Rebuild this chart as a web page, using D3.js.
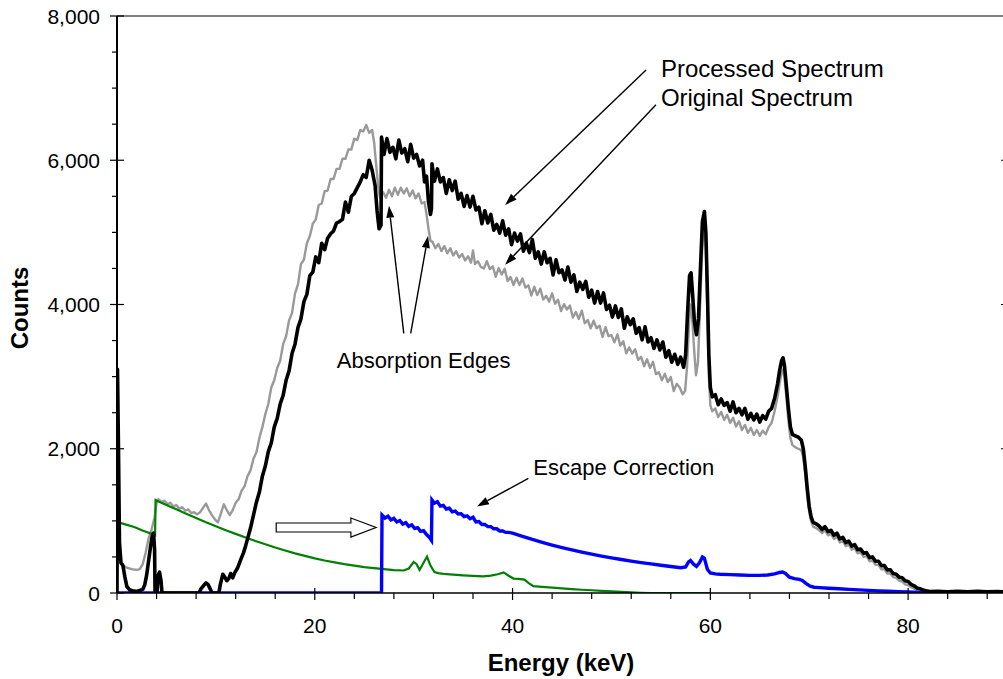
<!DOCTYPE html>
<html><head><meta charset="utf-8">
<script src="https://cdn.jsdelivr.net/npm/d3@7"></script>
<style>
html,body{margin:0;padding:0;background:#fff;}
svg{display:block;font-family:"Liberation Sans",Arial,sans-serif;}
</style></head>
<body>
<svg id="chart" width="1003" height="679"></svg>
<script>
// ---------- data (Energy keV, Counts) ----------
const processedSpectrum = [
[0,0],[0.05,3100],[0.15,2000],[0.25,700],[0.4,420],[0.6,380],[0.8,220],[1.0,90],[1.3,40],[1.6,30],[2.0,20],[2.3,35],[2.6,50],[2.8,110],[3.0,250],[3.2,450],[3.4,650],[3.55,780],[3.7,830],[3.8,600],[3.85,0],[4.05,0],[4.15,240],[4.3,290],[4.45,170],[4.55,0],
[8.3,0],[8.5,60],[8.8,110],[9.0,140],[9.2,120],[9.45,50],[9.6,0],[10.3,0],[10.45,120],[10.7,260],[10.9,220],[11.1,170],[11.3,200],[11.5,270],[11.7,210],[11.9,280],[12.2,350],[12.5,460],[12.8,560],[13.0,650],
[13.5,900],[13.8,1080],[14.1,1260],[14.4,1400],[14.7,1620],[15.0,1760],[15.3,1960],[15.6,2080],[15.9,2300],[16.2,2420],[16.5,2620],[16.8,2740],[17.1,2950],[17.4,3080],[17.7,3320],[18.0,3450],[18.3,3680],[18.6,3800],[18.9,4040],[19.2,4140],[19.5,4400],[19.8,4450],
[20.1,4660],[20.4,4580],[20.7,4850],[21.0,4760],[21.3,4920],[21.6,4980],[21.9,5020],[22.2,5130],[22.5,5150],[22.8,5180],[23.1,5420],[23.4,5280],[23.7,5500],[24.0,5540],[24.3,5620],[24.6,5700],[24.9,5800],[25.2,5760],[25.5,6000],[25.8,5860],[26.1,5650],[26.3,5300],[26.5,5050],[26.7,5100],
[26.75,6320],[27.0,6080],[27.3,6300],[27.6,6110],[27.9,6180],[28.2,6020],[28.5,6280],[28.8,6100],[29.1,6160],[29.4,5980],[29.7,6220],[30.0,6030],[30.3,6080],[30.6,5920],[30.9,6000],[31.1,5700],[31.3,5780],[31.5,5420],[31.7,5250],[31.8,5330],
[31.85,5950],[32.1,5710],[32.4,5880],[32.7,5700],[33.0,5760],[33.3,5540],[33.6,5730],[33.9,5580],[34.2,5710],[34.5,5460],[34.8,5540],[35.1,5360],[35.4,5510],[35.7,5350],[36.0,5500],[36.3,5310],[36.6,5350],[36.9,5120],[37.2,5300],[37.5,5130],[37.8,5250],[38.1,5030],[38.4,5110],[38.7,4990],[39.0,5160],[39.3,4960],[39.6,5050],[39.9,4830],
[40.2,4990],[40.5,4880],[40.8,4980],[41.1,4740],[41.4,4850],[41.7,4720],[42.0,4900],[42.3,4640],[42.6,4730],[42.9,4560],[43.2,4730],[43.5,4580],[43.8,4640],[44.1,4410],[44.4,4620],[44.7,4440],[45.0,4480],[45.3,4340],[45.6,4520],[45.9,4310],[46.2,4410],[46.5,4180],[46.8,4310],[47.1,4210],[47.4,4320],[47.7,4100],[48.0,4200],[48.3,4020],[48.6,4180],[48.9,4020],[49.2,4160],[49.5,3930],[49.8,3990],
[50.1,3825],[50.4,3980],[50.7,3820],[51.0,3940],[51.3,3670],[51.6,3830],[51.9,3720],[52.2,3800],[52.5,3600],[52.8,3680],[53.1,3510],[53.4,3690],[53.7,3480],[54.0,3540],[54.3,3390],[54.6,3510],[54.9,3370],[55.2,3480],[55.5,3270],[55.8,3360],[56.1,3200],[56.4,3310],[56.7,3170],[57.0,3270],[57.3,3130],
[57.5,3300],[57.7,3900],[57.9,4400],[58.05,4440],[58.2,4150],[58.4,3750],[58.6,3580],[58.8,3800],[59.0,4500],[59.2,5150],[59.4,5290],[59.55,5000],[59.7,4200],[59.85,3300],[60.0,2850],[60.2,2720],
[60.5,2750],[60.8,2610],[61.1,2690],[61.4,2600],[61.7,2640],[62.0,2520],[62.3,2650],[62.6,2500],[62.9,2560],[63.2,2470],[63.5,2560],[63.8,2410],[64.1,2490],[64.4,2400],[64.7,2480],[65.0,2370],[65.3,2460],[65.6,2410],[65.9,2520],[66.2,2560],[66.5,2700],[66.8,2900],[67.0,3080],[67.2,3220],[67.35,3260],[67.5,3150],[67.7,2850],[67.9,2550],[68.1,2300],[68.3,2200],[68.6,2180],[68.9,2160],[69.2,2120],[69.4,2000],[69.6,1750],[69.8,1450],[70.0,1200],[70.2,1050],[70.4,980],[70.7,960],[71.0,930],
[71.3,880],[71.6,920],[71.9,850],[72.2,870],[72.5,800],[72.8,830],[73.1,750],[73.4,770],[73.7,700],[74.0,720],[74.3,650],[74.6,670],[74.9,600],[75.2,610],[75.5,550],[75.8,560],[76.1,490],[76.4,500],[76.7,440],[77.0,440],[77.3,380],[77.6,380],[77.9,320],[78.2,320],[78.5,270],[78.8,260],[79.1,220],[79.4,210],[79.7,170],[80.0,160],[80.3,120],[80.6,100],[80.9,70],[81.2,60],[81.5,40],[81.8,30],[82.2,20],[83,25],[84,15],[85,25],[86,15],[87,25],[88,15],[89,20],[90,15]
];

const originalSpectrum = [
[0.1,700],[0.3,420],[0.6,380],[1.0,350],[1.5,330],[2.0,320],[2.3,330],[2.6,400],[2.9,560],[3.2,760],[3.5,880],[3.8,1050],[4.0,1250],[4.2,1300],[4.5,1260],[4.8,1280],[5.1,1230],[5.4,1250],[5.7,1200],[6.0,1220],[6.3,1170],[6.6,1190],[6.9,1140],[7.2,1160],[7.5,1110],[7.8,1120],[8.1,1090],[8.4,1120],[8.7,1180],[9.0,1240],[9.3,1150],[9.6,1080],[9.9,1020],[10.2,980],[10.5,1100],[10.8,1230],[11.1,1150],[11.4,1080],[11.7,1150],[12.0,1250],[12.3,1300],[12.6,1420],[12.9,1480],
[13.2,1620],[13.5,1700],[13.8,1860],[14.1,1950],[14.4,2150],[14.7,2300],[15.0,2480],[15.3,2620],[15.6,2850],[15.9,2950],[16.2,3120],[16.5,3220],[16.8,3450],[17.1,3560],[17.4,3780],[17.7,3880],[18.0,4150],[18.3,4280],[18.6,4560],[18.9,4620],[19.2,4850],[19.5,4950],[19.8,5120],
[20.1,5180],[20.4,5380],[20.7,5400],[21.0,5570],[21.3,5580],[21.6,5740],[21.9,5740],[22.2,5880],[22.5,5880],[22.8,6020],[23.1,6020],[23.4,6150],[23.7,6150],[24.0,6300],[24.3,6280],[24.6,6420],[24.9,6400],[25.2,6490],[25.5,6380],[25.8,6420],[26.0,6250],[26.2,5950],[26.4,5650],[26.6,5480],
[26.9,5560],[27.2,5480],[27.5,5590],[27.8,5500],[28.1,5620],[28.4,5520],[28.7,5620],[29.0,5540],[29.3,5610],[29.6,5500],[29.9,5580],[30.2,5470],[30.5,5540],[30.8,5400],[31.1,5420],[31.3,5250],[31.5,5050],[31.7,4880],[31.9,4870],
[32.2,4780],[32.5,4840],[32.8,4740],[33.1,4810],[33.4,4710],[33.7,4780],[34.0,4680],[34.3,4740],[34.6,4650],[34.9,4700],[35.2,4610],[35.5,4670],[35.8,4580],[36.0,4750],[36.2,4560],[36.5,4600],[36.8,4520],
[37.1,4500],[37.4,4600],[37.7,4490],[38.0,4530],[38.3,4385],[38.6,4505],[38.9,4415],[39.2,4495],[39.5,4325],[39.8,4380],[40.1,4270],[40.4,4370],[40.7,4270],[41.0,4360],[41.3,4235],[41.6,4265],[41.9,4125],[42.2,4245],[42.5,4130],[42.8,4220],[43.1,4070],[43.4,4120],[43.7,4040],[44.0,4155],[44.3,4010],[44.6,4065],[44.9,3910],[45.2,4005],[45.5,3930],[45.8,3985],[46.1,3820],[46.4,3895],[46.7,3800],[47.0,3915],[47.3,3740],[47.6,3785],[47.9,3670],[48.2,3775],[48.5,3670],[48.8,3705],[49.1,3550],[49.4,3685],[49.7,3560],
[50.0,3575],[50.3,3475],[50.6,3585],[50.9,3430],[51.2,3490],[51.5,3325],[51.8,3405],[52.1,3320],[52.4,3380],[52.7,3230],[53.0,3275],[53.3,3145],[53.6,3240],[53.9,3120],[54.2,3205],[54.5,3035],[54.8,3060],[55.1,2950],[55.4,3040],[55.7,2925],[56.0,2995],[56.3,2800],[56.6,2900],[56.9,2850],[57.2,2755],[57.45,2800],
[57.65,3150],[57.85,3750],[58.0,4000],[58.15,3850],[58.35,3400],[58.55,3020],[58.75,3200],[59.0,4100],[59.2,4850],[59.4,5100],[59.55,4800],[59.7,3900],[59.85,3000],[60.0,2600],[60.2,2520],
[60.5,2560],[60.8,2440],[61.1,2510],[61.4,2400],[61.7,2470],[62.0,2360],[62.3,2430],[62.6,2310],[62.9,2380],[63.2,2260],[63.5,2330],[63.8,2220],[64.1,2290],[64.4,2190],[64.7,2260],[65.0,2180],[65.3,2250],[65.6,2200],[65.9,2300],[66.2,2360],[66.5,2520],[66.8,2720],[67.0,2900],[67.2,3050],[67.35,3100],[67.5,2980],[67.7,2700],[67.9,2380],[68.1,2150],[68.3,2050],[68.6,2020],[68.9,2000],[69.2,1980],[69.4,1880],[69.6,1650],[69.8,1350],[70.0,1120],[70.2,990],[70.4,920],[70.7,900],[71.0,870],
[71.3,830],[71.6,870],[71.9,800],[72.2,820],[72.5,750],[72.8,780],[73.1,700],[73.4,720],[73.7,650],[74.0,670],[74.3,600],[74.6,620],[74.9,550],[75.2,560],[75.5,500],[75.8,510],[76.1,440],[76.4,450],[76.7,390],[77.0,390],[77.3,330],[77.6,330],[77.9,270],[78.2,270],[78.5,220],[78.8,210],[79.1,170],[79.4,160],[79.7,120],[80.0,110],[80.3,80],[80.6,60],[80.9,40],[81.2,30],[81.5,20],[81.8,10],[82.2,10],[90,10]
];

const escapeCorrection = [
[0,0],[26.75,0],[26.8,1080],[27.1,1040],[27.4,1065],[27.7,1015],[28.0,1035],[28.3,985],[28.6,1005],[28.9,955],[29.2,975],[29.5,925],[29.8,945],[30.1,895],[30.4,905],[30.7,855],[31.0,865],[31.3,810],[31.6,770],[31.8,730],
[31.85,1290],[32.1,1245],[32.4,1265],[32.7,1205],[33.0,1215],[33.3,1165],[33.6,1175],[33.9,1125],[34.2,1135],[34.5,1095],[34.8,1100],[35.1,1060],[35.4,1070],[35.7,1030],[36.0,1050],[36.3,985],[36.6,990],[36.9,950],[37.2,950],[37.5,920],[37.8,920],[38.1,890],[38.4,890],[38.7,860],[39.0,860],[39.3,840],[39.6,840],
[40,830],[41,785],[42,742],[43,702],[44,665],[45,630],[46,598],[47,567],[48,538],[49,512],[50,487],[51,464],[52,442],[53,422],[54,403],[55,385],[56,368],[57,350],[57.5,360],[57.8,430],[58.0,450],[58.3,400],[58.6,370],[58.9,420],[59.2,500],[59.4,480],[59.7,330],[60.0,278],
[60.5,265],[61,260],[62,255],[63,250],[64,245],[65,245],[65.8,250],[66.5,265],[67.0,285],[67.3,290],[67.6,270],[68.0,220],[68.5,200],[69.0,190],[69.3,175],[69.7,130],[70.1,95],[70.5,80],[71,75],[72,65],[73,58],[74,50],[75,43],[76,36],[77,30],[78,24],[79,18],[80,13],[81,8],[82,4],[83,0],[90,0]
];

const escapeComponent = [
[0,985],[0.5,965],[1,945],[1.5,925],[2,900],[2.5,870],[3,845],[3.5,820],[3.85,800],[3.9,1290],[4.2,1270],[5,1220],[6,1160],[7,1100],[8,1040],[9,980],[10,925],[11,870],[12,820],[13,770],[14,720],[15,675],[16,630],[17,590],[18,550],[19,515],[20,480],[21,450],[22,425],[23,400],[24,380],[25,360],[26,345],[27,330],[28,318],[29,312],
[29.5,340],[30,430],[30.3,400],[30.6,320],[31,420],[31.35,505],[31.7,380],[32.1,290],[32.5,275],[33,265],[34,255],[35,245],[36,238],[37,230],[37.8,240],[38.5,260],[39.1,285],[39.6,240],[40.1,200],[40.6,195],[41.2,185],[41.6,140],[42.1,95],[43,85],[44,75],[45,65],[46,55],[47,45],[48,38],[49,30],[50,22],[51,15],[52,8],[53,3],[54,0],[60,0]
];

const xMajorTicks = [0,20,40,60,80];
const xMinorTicks = [4,8,12,16,24,28,32,36,44,48,52,56,64,68,72,76,84,88];
const yMajorTicks = [0,2000,4000,6000,8000];
const yMinorTicks = [500,1000,1500,2500,3000,3500,4500,5000,5500,6500,7000,7500];

// annotations in data units
const textNotes = [
  {t:"Processed Spectrum", x:55.0, y:7160, anchor:"start", size:24},
  {t:"Original Spectrum",  x:55.0, y:6755, anchor:"start", size:24},
  {t:"Absorption Edges",   x:31.0, y:3120, anchor:"middle", size:22},
  {t:"Escape Correction",  x:42.1, y:1640, anchor:"start", size:22}
];
const arrowNotes = [
  {x1:53.5, y1:7250, x2:39.25, y2:5380},
  {x1:54.5, y1:6770, x2:39.25, y2:4550},
  {x1:29.0, y1:3600, x2:27.5, y2:5370},
  {x1:29.7, y1:3600, x2:31.45, y2:4950},
  {x1:41.6, y1:1590, x2:36.4, y2:1200}
];
const blockArrow = {x0:16.1, xNeck:23.65, xTip:26.2, y:908, shaft:4.5, head:9.5};

// ---------- layout ----------
const svg = d3.select("#chart");
const L = 117, R = 1007, T = 16, B = 593;
const x = d3.scaleLinear().domain([0,90]).range([L,R]);
const y = d3.scaleLinear().domain([0,8000]).range([B,T]);

svg.append("defs").append("clipPath").attr("id","clip")
  .append("rect").attr("x",L).attr("y",T-4).attr("width",R-L).attr("height",B-T+4);

// frame (top, right)
svg.append("line").attr("x1",L).attr("x2",R).attr("y1",T).attr("y2",T).attr("stroke","#808080").attr("stroke-width",2);
svg.append("line").attr("x1",R).attr("x2",R).attr("y1",T).attr("y2",B).attr("stroke","#808080").attr("stroke-width",2);
svg.selectAll(".rtick").data(yMajorTicks.slice(1,4)).enter().append("line")
  .attr("x1",R-6).attr("x2",R).attr("y1",d=>y(d)).attr("y2",d=>y(d)).attr("stroke","#000").attr("stroke-width",1.2);

// series
const line = d3.line().x(d=>x(d[0])).y(d=>y(d[1]));
const g = svg.append("g").attr("clip-path","url(#clip)");
g.append("path").datum(originalSpectrum).attr("d",line).attr("fill","none").attr("stroke","#999999").attr("stroke-width",2.4).attr("stroke-linejoin","round");
g.append("path").datum(escapeComponent).attr("d",line).attr("fill","none").attr("stroke","#008000").attr("stroke-width",2.2);
g.append("path").datum(escapeCorrection).attr("d",line).attr("fill","none").attr("stroke","#0000FF").attr("stroke-width",3.4);
g.append("path").datum(processedSpectrum).attr("d",line).attr("fill","none").attr("stroke","#000").attr("stroke-width",3.6).attr("stroke-linejoin","round");

// axes
const ax = svg.append("g");
ax.append("line").attr("x1",L).attr("x2",1003).attr("y1",B).attr("y2",B).attr("stroke","#000").attr("stroke-width",1.5);
ax.append("line").attr("x1",L).attr("x2",L).attr("y1",T).attr("y2",B).attr("stroke","#000").attr("stroke-width",2);
ax.selectAll(".xm").data(xMajorTicks).enter().append("line")
  .attr("x1",d=>x(d)).attr("x2",d=>x(d)).attr("y1",B-5).attr("y2",B+7).attr("stroke","#000").attr("stroke-width",1.2);
ax.selectAll(".xn").data(xMinorTicks).enter().append("line")
  .attr("x1",d=>x(d)).attr("x2",d=>x(d)).attr("y1",B).attr("y2",B+6).attr("stroke","#000").attr("stroke-width",1.2);
ax.selectAll(".ym").data(yMajorTicks).enter().append("line")
  .attr("x1",L-7).attr("x2",L+7).attr("y1",d=>y(d)).attr("y2",d=>y(d)).attr("stroke","#000").attr("stroke-width",1.2);
ax.selectAll(".yn").data(yMinorTicks).enter().append("line")
  .attr("x1",L-5).attr("x2",L).attr("y1",d=>y(d)).attr("y2",d=>y(d)).attr("stroke","#000").attr("stroke-width",1.2);

const fmt = d3.format(",");
ax.selectAll(".xl").data(xMajorTicks).enter().append("text")
  .attr("x",d=>x(d)).attr("y",B+40).attr("text-anchor","middle").attr("font-size",21).text(d=>fmt(d));
ax.selectAll(".yl").data(yMajorTicks).enter().append("text")
  .attr("x",L-17).attr("y",d=>y(d)+7.5).attr("text-anchor","end").attr("font-size",21).text(d=>fmt(d));

svg.append("text").attr("x",561).attr("y",671).attr("text-anchor","middle").attr("font-size",24).attr("font-weight","bold").text("Energy (keV)");
svg.append("text").attr("transform","translate(28,308) rotate(-90)").attr("text-anchor","middle").attr("font-size",24).attr("font-weight","bold").text("Counts");

// annotations
svg.selectAll(".note").data(textNotes).enter().append("text")
  .attr("x",d=>x(d.x)).attr("y",d=>y(d.y)).attr("text-anchor",d=>d.anchor).attr("font-size",d=>d.size).text(d=>d.t);

arrowNotes.forEach(a=>{
  const X1=x(a.x1),Y1=y(a.y1),X2=x(a.x2),Y2=y(a.y2);
  const ang=Math.atan2(Y2-Y1,X2-X1), len=12, w=4;
  const bx=X2-len*Math.cos(ang), by=Y2-len*Math.sin(ang);
  svg.append("line").attr("x1",X1).attr("y1",Y1).attr("x2",bx).attr("y2",by).attr("stroke","#000").attr("stroke-width",1.4);
  const p=[[X2,Y2],[bx+w*Math.sin(ang),by-w*Math.cos(ang)],[bx-w*Math.sin(ang),by+w*Math.cos(ang)]];
  svg.append("polygon").attr("points",p.map(q=>q.join(",")).join(" ")).attr("fill","#000");
});

{
  const b=blockArrow, yc=y(b.y);
  const pts=[[x(b.x0),yc-b.shaft],[x(b.xNeck),yc-b.shaft],[x(b.xNeck),yc-b.head],[x(b.xTip),yc],[x(b.xNeck),yc+b.head],[x(b.xNeck),yc+b.shaft],[x(b.x0),yc+b.shaft]];
  svg.append("polygon").attr("points",pts.map(q=>q.join(",")).join(" ")).attr("fill","#fff").attr("stroke","#000").attr("stroke-width",1.2);
}
</script>
</body></html>
